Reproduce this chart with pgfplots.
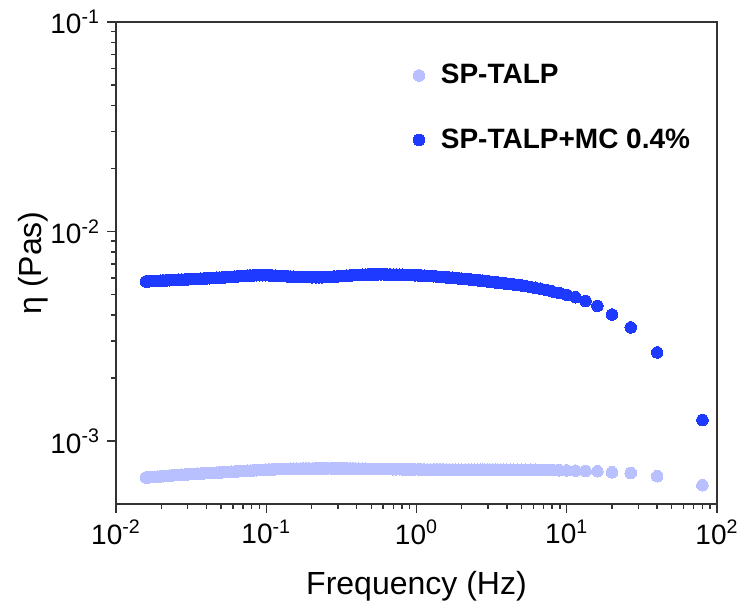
\documentclass[border=0pt]{standalone}
\usepackage{fontspec}
\setmainfont{Liberation Sans}
\usepackage{pgfplots}
\usepackage{pgfplotstable}
\pgfplotsset{compat=1.18}
\definecolor{darkb}{RGB}{30,58,255}
\definecolor{lightb}{RGB}{184,192,255}

% frequency (Hz), viscosity (Pa s) -- SP-TALP
\pgfplotstableread{
f eta
0.0158 6.70e-4
0.0165 6.71e-4
0.0171 6.73e-4
0.0179 6.74e-4
0.0188 6.76e-4
0.0197 6.78e-4
0.0206 6.80e-4
0.0216 6.82e-4
0.0227 6.84e-4
0.0238 6.86e-4
0.0250 6.88e-4
0.0262 6.90e-4
0.0274 6.91e-4
0.0288 6.93e-4
0.0302 6.94e-4
0.0317 6.96e-4
0.0332 6.97e-4
0.0348 6.99e-4
0.0365 7.00e-4
0.0383 7.02e-4
0.0402 7.03e-4
0.0422 7.04e-4
0.0442 7.05e-4
0.0464 7.07e-4
0.0486 7.08e-4
0.0510 7.10e-4
0.0535 7.11e-4
0.0561 7.13e-4
0.0588 7.14e-4
0.0617 7.16e-4
0.0647 7.17e-4
0.0679 7.19e-4
0.0712 7.20e-4
0.0747 7.22e-4
0.0783 7.23e-4
0.0821 7.25e-4
0.0861 7.26e-4
0.0903 7.28e-4
0.0947 7.29e-4
0.0993 7.31e-4
0.1042 7.32e-4
0.1093 7.33e-4
0.1146 7.34e-4
0.120 7.35e-4
0.126 7.36e-4
0.132 7.37e-4
0.139 7.37e-4
0.145 7.38e-4
0.152 7.38e-4
0.160 7.39e-4
0.168 7.39e-4
0.176 7.40e-4
0.184 7.40e-4
0.193 7.40e-4
0.203 7.40e-4
0.213 7.41e-4
0.223 7.41e-4
0.234 7.41e-4
0.245 7.41e-4
0.257 7.41e-4
0.27 7.41e-4
0.283 7.41e-4
0.297 7.41e-4
0.311 7.41e-4
0.326 7.41e-4
0.342 7.41e-4
0.359 7.40e-4
0.377 7.40e-4
0.395 7.39e-4
0.414 7.39e-4
0.434 7.38e-4
0.455 7.38e-4
0.478 7.37e-4
0.501 7.37e-4
0.525 7.37e-4
0.551 7.36e-4
0.578 7.36e-4
0.606 7.35e-4
0.635 7.35e-4
0.666 7.35e-4
0.699 7.34e-4
0.733 7.34e-4
0.769 7.34e-4
0.807 7.33e-4
0.846 7.33e-4
0.888 7.33e-4
0.931 7.33e-4
0.976 7.33e-4
1.024 7.33e-4
1.074 7.32e-4
1.127 7.32e-4
1.182 7.32e-4
1.24 7.32e-4
1.30 7.32e-4
1.364 7.32e-4
1.43 7.32e-4
1.5 7.32e-4
1.574 7.31e-4
1.651 7.31e-4
1.732 7.31e-4
1.818 7.31e-4
1.907 7.31e-4
2 7.31e-4
2.108 7.31e-4
2.222 7.31e-4
2.321 7.31e-4
2.424 7.31e-4
2.543 7.31e-4
2.667 7.31e-4
2.760 7.31e-4
2.857 7.31e-4
2.965 7.31e-4
3.077 7.31e-4
3.200 7.31e-4
3.333 7.31e-4
3.481 7.30e-4
3.636 7.30e-4
3.810 7.30e-4
4 7.30e-4
4.211 7.30e-4
4.444 7.30e-4
4.706 7.30e-4
5 7.30e-4
5.333 7.30e-4
5.714 7.30e-4
6.154 7.30e-4
6.667 7.29e-4
7.273 7.28e-4
8 7.27e-4
8.889 7.26e-4
10 7.25e-4
11.43 7.23e-4
13.33 7.21e-4
16 7.18e-4
20 7.10e-4
26.67 7.04e-4
40 6.80e-4
80 6.16e-4
}\tabA

% SP-TALP+MC 0.4%
\pgfplotstableread{
f eta
0.0158 5.78e-3
0.0165 5.79e-3
0.0171 5.80e-3
0.0179 5.81e-3
0.0188 5.82e-3
0.0197 5.83e-3
0.0206 5.84e-3
0.0216 5.85e-3
0.0227 5.86e-3
0.0238 5.87e-3
0.0250 5.88e-3
0.0262 5.89e-3
0.0274 5.90e-3
0.0288 5.91e-3
0.0302 5.92e-3
0.0317 5.93e-3
0.0332 5.94e-3
0.0348 5.95e-3
0.0365 5.96e-3
0.0383 5.97e-3
0.0402 5.98e-3
0.0422 5.99e-3
0.0442 6.00e-3
0.0464 6.02e-3
0.0486 6.03e-3
0.0510 6.04e-3
0.0535 6.05e-3
0.0561 6.07e-3
0.0588 6.08e-3
0.0617 6.10e-3
0.0647 6.11e-3
0.0679 6.13e-3
0.0712 6.14e-3
0.0747 6.16e-3
0.0783 6.17e-3
0.0821 6.18e-3
0.0861 6.19e-3
0.0903 6.19e-3
0.0947 6.19e-3
0.0993 6.19e-3
0.1042 6.18e-3
0.1093 6.17e-3
0.1146 6.16e-3
0.120 6.15e-3
0.126 6.14e-3
0.132 6.13e-3
0.139 6.11e-3
0.145 6.10e-3
0.152 6.09e-3
0.160 6.08e-3
0.168 6.07e-3
0.176 6.07e-3
0.184 6.06e-3
0.193 6.06e-3
0.203 6.05e-3
0.213 6.05e-3
0.223 6.05e-3
0.234 6.05e-3
0.245 6.06e-3
0.257 6.07e-3
0.27 6.08e-3
0.283 6.10e-3
0.297 6.11e-3
0.311 6.13e-3
0.326 6.14e-3
0.342 6.16e-3
0.359 6.17e-3
0.377 6.19e-3
0.395 6.20e-3
0.414 6.21e-3
0.434 6.22e-3
0.455 6.23e-3
0.478 6.24e-3
0.501 6.25e-3
0.525 6.25e-3
0.551 6.25e-3
0.578 6.25e-3
0.606 6.25e-3
0.635 6.24e-3
0.666 6.24e-3
0.699 6.23e-3
0.733 6.23e-3
0.769 6.22e-3
0.807 6.22e-3
0.846 6.21e-3
0.888 6.21e-3
0.931 6.20e-3
0.976 6.19e-3
1.024 6.18e-3
1.074 6.17e-3
1.127 6.16e-3
1.182 6.15e-3
1.24 6.13e-3
1.30 6.12e-3
1.364 6.10e-3
1.43 6.08e-3
1.5 6.06e-3
1.574 6.05e-3
1.651 6.03e-3
1.732 6.02e-3
1.818 6.00e-3
1.907 5.98e-3
2 5.96e-3
2.108 5.94e-3
2.222 5.92e-3
2.321 5.90e-3
2.424 5.88e-3
2.543 5.86e-3
2.667 5.84e-3
2.760 5.83e-3
2.857 5.81e-3
2.965 5.79e-3
3.077 5.77e-3
3.200 5.75e-3
3.333 5.73e-3
3.481 5.71e-3
3.636 5.69e-3
3.810 5.67e-3
4 5.64e-3
4.211 5.61e-3
4.444 5.59e-3
4.706 5.56e-3
5 5.53e-3
5.333 5.49e-3
5.714 5.45e-3
6.154 5.40e-3
6.667 5.34e-3
7.273 5.26e-3
8 5.18e-3
8.889 5.09e-3
10 4.99e-3
11.43 4.86e-3
13.33 4.67e-3
16 4.42e-3
20 4.02e-3
26.67 3.49e-3
40 2.65e-3
80 1.26e-3
}\tabB

\begin{document}
\begin{tikzpicture}
\useasboundingbox (-58pt,-51pt) rectangle (312pt,252pt);
\begin{axis}[
    at={(0,0)}, anchor=south west,
    scale only axis,
    width=300.5pt, height=241pt,
    xmode=log, ymode=log,
    xmin=0.01, xmax=100,
    ymin=5.01e-4, ymax=0.1,
    xtick={0.01,0.1,1,10,100},
    xticklabels={10\textsuperscript{-2},10\textsuperscript{-1},10\textsuperscript{0},10\textsuperscript{1},10\textsuperscript{2}},
    ytick={0.001,0.01,0.1},
    yticklabels={10\textsuperscript{-3},10\textsuperscript{-2},10\textsuperscript{-1}},
    xtick pos=bottom, ytick pos=left,
    tick align=outside,
    major tick length=4.5pt, minor tick length=2.5pt,
    every tick/.style={black!80, line width=0.7pt},
    axis line style={black!80, line width=0.8pt},
    tick label style={font=\fontsize{14}{16}\selectfont},
    xlabel={Frequency (Hz)},
    ylabel={η (Pas)},
    label style={font=\fontsize{16}{19}\selectfont},
    xlabel style={at={(axis description cs:0.5,0)}, anchor=center, yshift=-41pt},
    ylabel style={at={(axis description cs:-0.137,0.5)}, anchor=center},
    legend style={draw=none, fill=none, at={(axis description cs:0.484,0.93)}, anchor=north west,
        font=\fontsize{14}{17}\selectfont\bfseries, row sep=17pt,
        legend cell align=left,
        /tikz/every odd column/.append style={column sep=6pt}},
    legend image code/.code={\draw[#1] plot coordinates {(0.3cm,0cm)};},
]
\addplot[only marks, mark=*, mark size=2.9pt, mark options={draw=lightb, fill=lightb, line width=0pt}] table[x=f, y=eta] {\tabA};
\addlegendentry{SP-TALP}
\addplot[only marks, mark=*, mark size=2.9pt, mark options={draw=darkb, fill=darkb, line width=0pt}] table[x=f, y=eta] {\tabB};
\addlegendentry{SP-TALP+MC 0.4\%}
\end{axis}
\end{tikzpicture}
\end{document}
